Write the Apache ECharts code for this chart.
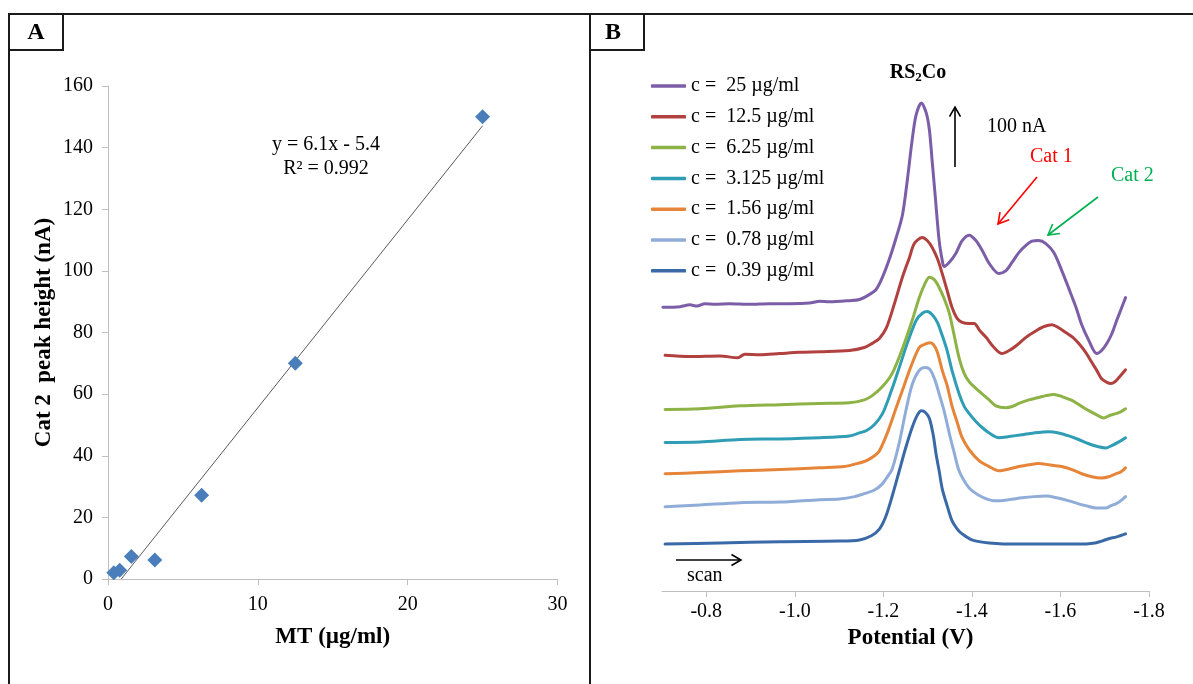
<!DOCTYPE html>
<html>
<head>
<meta charset="utf-8">
<script src="https://cdn.jsdelivr.net/npm/echarts@6/dist/echarts.min.js"></script>
<style>
html,body{margin:0;padding:0;background:#fff;}
#chart{width:1193px;height:684px;}
</style>
</head>
<body>
<div id="chart"></div>
<script>
// ---------- Panel A data ----------
const mtConc = [0.39, 0.78, 1.56, 3.125, 6.25, 12.5, 25];
const cat2Height = [2.0, 2.8, 7.3, 6.2, 27.2, 70, 150];
const trendX = [0.885, 25];
const trendY = [0, 147.1];
const xTicksA = [0, 10, 20, 30];
const yTicksA = [0, 20, 40, 60, 80, 100, 120, 140, 160];

// ---------- Panel B data (potential V, current nA with vertical offset) ----------
const potTicks = [-0.8, -1.0, -1.2, -1.4, -1.6, -1.8];
const seriesNames = ['c =  25 µg/ml', 'c =  12.5 µg/ml', 'c =  6.25 µg/ml', 'c =  3.125 µg/ml', 'c =  1.56 µg/ml', 'c =  0.78 µg/ml', 'c =  0.39 µg/ml'];
const seriesColors = ['#7b5ea7', '#b0413e', '#8db245', '#2f9db4', '#e6853a', '#8fadd8', '#3a69a8'];

const c25 = [[-0.702,472],[-0.741,473],[-0.763,476],[-0.779,474],[-0.797,478],[-0.819,477],[-0.853,478],[-0.898,477],[-0.943,478],[-0.988,478],[-1.033,479],[-1.056,482],[-1.078,481],[-1.123,483],[-1.146,485],[-1.168,493],[-1.184,502],[-1.198,522],[-1.214,553],[-1.229,588],[-1.243,625],[-1.254,683],[-1.265,750],[-1.274,792],[-1.286,812],[-1.297,795],[-1.304,767],[-1.310,717],[-1.317,658],[-1.326,583],[-1.333,550],[-1.337,540],[-1.349,547],[-1.364,562],[-1.378,583],[-1.394,592],[-1.409,583],[-1.423,567],[-1.439,545],[-1.461,528],[-1.477,533],[-1.491,547],[-1.506,563],[-1.522,575],[-1.536,582],[-1.551,583],[-1.567,578],[-1.585,563],[-1.603,533],[-1.619,503],[-1.635,472],[-1.648,443],[-1.664,417],[-1.682,395],[-1.693,400],[-1.705,412],[-1.716,428],[-1.727,450],[-1.736,467],[-1.747,488]];
const c12_5 = [[-0.707,392],[-0.763,390],[-0.831,391],[-0.871,388],[-0.887,394],[-0.921,393],[-0.966,395],[-1.011,397],[-1.056,398],[-1.123,400],[-1.157,405],[-1.175,412],[-1.191,420],[-1.207,438],[-1.225,478],[-1.243,522],[-1.259,555],[-1.270,578],[-1.288,588],[-1.299,583],[-1.310,572],[-1.322,553],[-1.333,528],[-1.344,500],[-1.355,472],[-1.367,453],[-1.378,447],[-1.394,445],[-1.405,445],[-1.418,433],[-1.432,422],[-1.450,405],[-1.468,395],[-1.484,400],[-1.500,408],[-1.522,422],[-1.545,433],[-1.563,440],[-1.581,443],[-1.596,438],[-1.612,430],[-1.628,422],[-1.641,412],[-1.657,397],[-1.671,380],[-1.682,367],[-1.693,353],[-1.705,347],[-1.714,345],[-1.723,348],[-1.732,355],[-1.747,368]];
const c6_25 = [[-0.707,302],[-0.786,303],[-0.876,308],[-0.966,310],[-1.056,312],[-1.123,313],[-1.157,318],[-1.175,325],[-1.198,340],[-1.220,362],[-1.243,403],[-1.265,450],[-1.281,488],[-1.295,513],[-1.304,522],[-1.315,518],[-1.326,505],[-1.337,487],[-1.349,462],[-1.360,425],[-1.371,388],[-1.382,363],[-1.394,348],[-1.409,337],[-1.423,328],[-1.439,318],[-1.454,308],[-1.477,305],[-1.491,307],[-1.506,312],[-1.529,318],[-1.551,322],[-1.567,325],[-1.585,327],[-1.605,323],[-1.626,317],[-1.646,308],[-1.664,300],[-1.682,293],[-1.698,288],[-1.711,292],[-1.725,295],[-1.736,298],[-1.747,303]];
const c3_125 = [[-0.707,247],[-0.786,248],[-0.876,252],[-0.966,253],[-1.056,255],[-1.123,258],[-1.146,263],[-1.162,267],[-1.180,277],[-1.198,295],[-1.218,333],[-1.236,372],[-1.254,412],[-1.274,450],[-1.288,462],[-1.299,465],[-1.310,460],[-1.322,447],[-1.333,425],[-1.344,400],[-1.355,367],[-1.371,328],[-1.382,308],[-1.394,295],[-1.409,282],[-1.423,272],[-1.439,263],[-1.461,255],[-1.484,257],[-1.513,260],[-1.540,263],[-1.574,265],[-1.596,263],[-1.619,258],[-1.641,252],[-1.664,245],[-1.686,240],[-1.702,238],[-1.716,242],[-1.732,248],[-1.747,255]];
const c1_56 = [[-0.707,195],[-0.786,197],[-0.876,200],[-0.966,202],[-1.056,205],[-1.112,207],[-1.146,213],[-1.162,217],[-1.180,225],[-1.191,233],[-1.209,263],[-1.229,305],[-1.247,342],[-1.263,375],[-1.281,405],[-1.292,410],[-1.304,413],[-1.313,410],[-1.322,397],[-1.333,367],[-1.344,342],[-1.355,308],[-1.367,280],[-1.378,255],[-1.394,235],[-1.416,217],[-1.439,207],[-1.461,200],[-1.484,203],[-1.506,207],[-1.529,210],[-1.551,212],[-1.574,210],[-1.603,207],[-1.626,202],[-1.648,195],[-1.671,190],[-1.693,188],[-1.709,190],[-1.725,195],[-1.736,198],[-1.747,205]];
const c0_78 = [[-0.707,140],[-0.786,143],[-0.876,147],[-0.966,148],[-1.056,152],[-1.101,153],[-1.135,157],[-1.157,162],[-1.180,168],[-1.196,177],[-1.209,190],[-1.220,203],[-1.236,247],[-1.250,297],[-1.265,343],[-1.281,367],[-1.295,372],[-1.306,368],[-1.317,350],[-1.326,328],[-1.337,300],[-1.349,262],[-1.360,230],[-1.371,200],[-1.387,178],[-1.400,167],[-1.427,155],[-1.454,150],[-1.484,152],[-1.513,155],[-1.540,157],[-1.567,158],[-1.592,155],[-1.619,150],[-1.641,145],[-1.657,142],[-1.680,138],[-1.702,138],[-1.714,142],[-1.725,145],[-1.736,150],[-1.747,157]];
const c0_39 = [[-0.707,78],[-0.831,80],[-0.966,82],[-1.101,83],[-1.146,85],[-1.173,92],[-1.191,103],[-1.205,123],[-1.220,158],[-1.236,200],[-1.250,237],[-1.265,272],[-1.277,293],[-1.286,300],[-1.295,297],[-1.304,287],[-1.313,258],[-1.319,228],[-1.326,200],[-1.333,170],[-1.344,142],[-1.355,117],[-1.367,103],[-1.378,95],[-1.400,85],[-1.439,80],[-1.506,78],[-1.574,78],[-1.641,78],[-1.678,80],[-1.693,83],[-1.709,87],[-1.727,90],[-1.747,95]];
const curvesB = [c25, c12_5, c6_25, c3_125, c1_56, c0_78, c0_39];

// ---------- chart ----------
const SERIF = "'Liberation Serif', 'Times New Roman', serif";
const axisGray = '#bfbfbf';
const chart = echarts.init(document.getElementById('chart'), null, {renderer: 'canvas'});

const seriesB = curvesB.map((d, i) => ({
  name: seriesNames[i],
  type: 'line',
  xAxisIndex: 1,
  yAxisIndex: 1,
  data: d,
  smooth: 0.3,
  symbol: 'none',
  color: seriesColors[i],
  lineStyle: {width: 3, color: seriesColors[i], cap: 'round', join: 'round'},
  z: 2 + (6 - i)
}));

function arrow(x1, y1, x2, y2, color, head) {
  const dx = x2 - x1, dy = y2 - y1, L = Math.sqrt(dx * dx + dy * dy);
  const bx = -dx / L, by = -dy / L, c = Math.cos(Math.PI / 6), s = Math.sin(Math.PI / 6);
  const p1 = [x2 + head * (bx * c - by * s), y2 + head * (bx * s + by * c)];
  const p2 = [x2 + head * (bx * c + by * s), y2 + head * (-bx * s + by * c)];
  return [
    {type: 'line', shape: {x1: x1, y1: y1, x2: x2, y2: y2}, style: {stroke: color, lineWidth: 1.6}, z: 50},
    {type: 'polyline', shape: {points: [p1, [x2, y2], p2]}, style: {stroke: color, fill: null, lineWidth: 1.6}, z: 50}
  ];
}

const frame = '#1a1a1a';
const graphics = [
  {type: 'line', shape: {x1: 8, y1: 14, x2: 1193, y2: 14}, style: {stroke: frame, lineWidth: 2}},
  {type: 'line', shape: {x1: 9, y1: 14, x2: 9, y2: 684}, style: {stroke: frame, lineWidth: 2}},
  {type: 'line', shape: {x1: 590, y1: 14, x2: 590, y2: 684}, style: {stroke: frame, lineWidth: 2}},
  {type: 'rect', shape: {x: 9, y: 14, width: 54, height: 36}, style: {fill: null, stroke: frame, lineWidth: 2}},
  {type: 'rect', shape: {x: 590, y: 14, width: 54, height: 36}, style: {fill: null, stroke: frame, lineWidth: 2}},
  {type: 'text', style: {text: 'A', x: 36, y: 33, font: 'bold 24px ' + SERIF, fill: '#000', align: 'center', verticalAlign: 'middle'}},
  {type: 'text', style: {text: 'B', x: 613, y: 33, font: 'bold 24px ' + SERIF, fill: '#000', align: 'center', verticalAlign: 'middle'}},
  {type: 'text', style: {text: 'y = 6.1x - 5.4', x: 326, y: 145, font: '20px ' + SERIF, fill: '#000', align: 'center', verticalAlign: 'middle'}},
  {type: 'text', style: {text: 'R² = 0.992', x: 326, y: 169, font: '20px ' + SERIF, fill: '#000', align: 'center', verticalAlign: 'middle'}},
  {type: 'text', style: {text: '{a|RS}{b|2}{a|Co}', x: 918, y: 73, align: 'center', verticalAlign: 'middle',
     rich: {a: {font: 'bold 20px ' + SERIF, fill: '#000'}, b: {font: 'bold 13px ' + SERIF, fill: '#000', padding: [10, 0, 0, 0]}}}},
  {type: 'text', style: {text: '100 nA', x: 987, y: 127, font: '20px ' + SERIF, fill: '#000', align: 'left', verticalAlign: 'middle'}},
  {type: 'text', style: {text: 'Cat 1', x: 1030, y: 157, font: '20px ' + SERIF, fill: '#ff0000', align: 'left', verticalAlign: 'middle'}},
  {type: 'text', style: {text: 'Cat 2', x: 1111, y: 176, font: '20px ' + SERIF, fill: '#00b050', align: 'left', verticalAlign: 'middle'}},
  {type: 'text', style: {text: 'scan', x: 687, y: 576, font: '20px ' + SERIF, fill: '#000', align: 'left', verticalAlign: 'middle'}}
].concat(
  arrow(955, 167, 955, 107, '#000', 11),
  arrow(1037, 177, 998, 224, '#ff0000', 12),
  arrow(1098, 197, 1048, 235, '#00b050', 12),
  arrow(676, 560, 741, 560, '#000', 11)
);

const option = {
  animation: false,
  backgroundColor: '#fff',
  textStyle: {fontFamily: SERIF},
  grid: [
    {left: 108, top: 86, width: 449.5, height: 493},
    {left: 662, top: 50, width: 487, height: 541}
  ],
  legend: {
    data: seriesNames,
    orient: 'vertical',
    left: 646,
    top: 70,
    icon: 'roundRect',
    itemWidth: 35,
    itemHeight: 3.5,
    itemGap: 8.8,
    textStyle: {fontFamily: SERIF, fontSize: 20, lineHeight: 22, color: '#000'}
  },
  xAxis: [
    {
      gridIndex: 0, type: 'value', min: 0, max: 30, interval: 10,
      name: 'MT (µg/ml)', nameLocation: 'middle', nameGap: 47,
      nameTextStyle: {fontFamily: SERIF, fontSize: 23, fontWeight: 'bold', color: '#000'},
      axisLine: {show: true, onZero: false, lineStyle: {color: axisGray, width: 1}},
      axisTick: {show: true, length: 6, lineStyle: {color: axisGray}, customValues: xTicksA},
      axisLabel: {fontFamily: SERIF, fontSize: 20, color: '#000', margin: 16, customValues: xTicksA},
      splitLine: {show: false}
    },
    {
      gridIndex: 1, type: 'value', min: -1.8, max: -0.7, inverse: true, interval: 0.2,
      name: 'Potential (V)', nameLocation: 'middle', nameGap: 36,
      nameTextStyle: {fontFamily: SERIF, fontSize: 23, fontWeight: 'bold', color: '#000', padding: [0, 0, 0, 10]},
      axisLine: {show: true, onZero: false, lineStyle: {color: axisGray, width: 1}},
      axisTick: {show: true, length: 6, lineStyle: {color: axisGray}, customValues: potTicks},
      axisLabel: {fontFamily: SERIF, fontSize: 20, color: '#000', margin: 11, customValues: potTicks,
                  formatter: v => v.toFixed(1)},
      splitLine: {show: false}
    }
  ],
  yAxis: [
    {
      gridIndex: 0, type: 'value', min: 0, max: 160, interval: 20,
      name: 'Cat 2  peak height (nA)', nameLocation: 'middle', nameGap: 52, nameRotate: 90,
      nameTextStyle: {fontFamily: SERIF, fontSize: 23, fontWeight: 'bold', color: '#000'},
      axisLine: {show: true, onZero: false, lineStyle: {color: axisGray, width: 1}},
      axisTick: {show: true, length: 6, lineStyle: {color: axisGray}, customValues: yTicksA},
      axisLabel: {fontFamily: SERIF, fontSize: 20, color: '#000', margin: 15, customValues: yTicksA},
      splitLine: {show: false}
    },
    {gridIndex: 1, type: 'value', min: 0, max: 900, show: false, splitLine: {show: false}}
  ],
  series: [
    {
      name: 'trend', type: 'line', xAxisIndex: 0, yAxisIndex: 0,
      data: trendX.map((x, i) => [x, trendY[i]]),
      symbol: 'none', lineStyle: {color: '#595959', width: 1}, z: 2
    },
    {
      name: 'Cat 2 peak', type: 'scatter', xAxisIndex: 0, yAxisIndex: 0,
      data: mtConc.map((x, i) => [x, cat2Height[i]]),
      symbol: 'diamond', symbolSize: 15, itemStyle: {color: '#4a7ebb', opacity: 1}, z: 3
    }
  ].concat(seriesB),
  graphic: graphics
};
chart.setOption(option);
</script>
</body>
</html>
